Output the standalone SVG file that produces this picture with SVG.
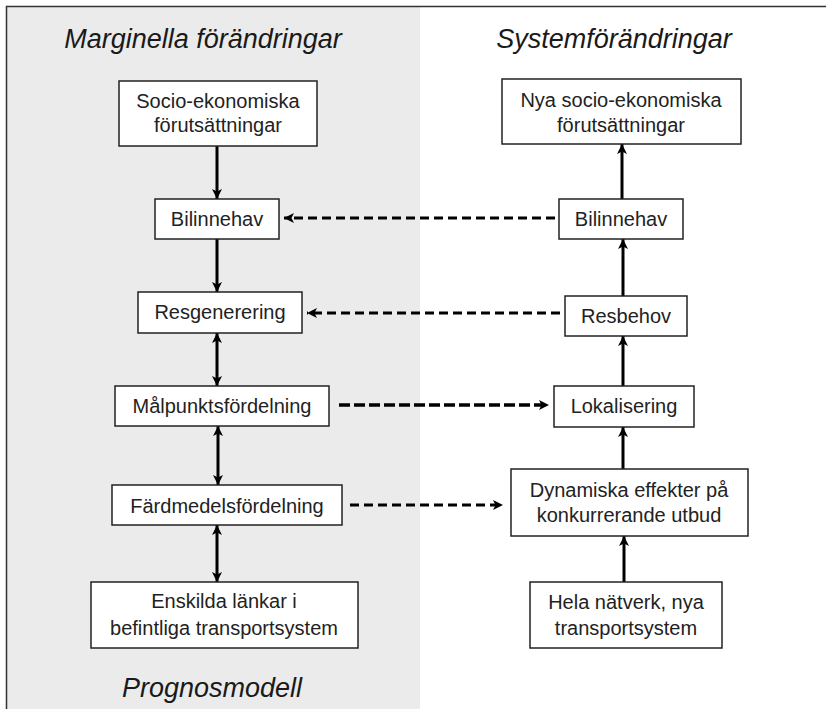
<svg xmlns="http://www.w3.org/2000/svg" width="826" height="709" viewBox="0 0 826 709">
<style>
.box{fill:#fff;stroke:#222;stroke-width:1.5}
.lt{font-family:"Liberation Sans",Arial,sans-serif;font-size:20px;fill:#222;text-anchor:middle}
.ttl{font-family:"Liberation Sans",Arial,sans-serif;font-size:27px;font-style:italic;fill:#1a1a1a;text-anchor:middle}
.sol{stroke:#000;stroke-width:3;fill:none}
.dash{stroke:#000;stroke-width:3;fill:none;stroke-dasharray:9 5}
.dash2{stroke:#000;stroke-width:3.5;fill:none;stroke-dasharray:11 4}
</style>
<defs>
<marker id="ah" viewBox="0 0 10 10" refX="10" refY="5" markerWidth="10" markerHeight="10" markerUnits="userSpaceOnUse" orient="auto-start-reverse">
<path d="M0,0 L10,5 L0,10 L2.5,5 z" fill="#000"/>
</marker>
</defs>
<rect x="7" y="7" width="413" height="702" fill="#ebebeb"/>
<path d="M6.5,709 V6.5 H826" fill="none" stroke="#333" stroke-width="1.5"/>
<text class="ttl" x="203" y="48">Marginella förändringar</text>
<text class="ttl" x="614" y="48">Systemförändringar</text>
<text class="ttl" x="212" y="697">Prognosmodell</text>
<g id="connectors">
<line class="sol" x1="217" y1="146" x2="217" y2="199" marker-end="url(#ah)"/>
<line class="sol" x1="217" y1="239" x2="217" y2="292" marker-end="url(#ah)"/>
<line class="sol" x1="217" y1="333" x2="217" y2="386" marker-start="url(#ah)" marker-end="url(#ah)"/>
<line class="sol" x1="218" y1="426" x2="218" y2="485" marker-start="url(#ah)" marker-end="url(#ah)"/>
<line class="sol" x1="217" y1="525" x2="217" y2="582" marker-start="url(#ah)" marker-end="url(#ah)"/>
<line class="sol" x1="624" y1="582" x2="624" y2="536" marker-end="url(#ah)"/>
<line class="sol" x1="623" y1="469" x2="623" y2="427" marker-end="url(#ah)"/>
<line class="sol" x1="623" y1="386" x2="623" y2="336" marker-end="url(#ah)"/>
<line class="sol" x1="623" y1="296" x2="623" y2="239" marker-end="url(#ah)"/>
<line class="sol" x1="622" y1="199" x2="622" y2="144" marker-end="url(#ah)"/>
<line class="dash" x1="555" y1="218" x2="284" y2="218" marker-end="url(#ah)"/>
<line class="dash" x1="560" y1="313" x2="307" y2="313" marker-end="url(#ah)"/>
<line class="dash2" x1="339" y1="405" x2="549" y2="405" marker-end="url(#ah)"/>
<line class="dash" x1="350" y1="505" x2="503" y2="505" marker-end="url(#ah)"/>
</g>
<g id="n-socio"><rect class="box" x="119" y="81" width="198" height="65"/><text class="lt" x="218" y="108">Socio-ekonomiska</text><text class="lt" x="218" y="132">förutsättningar</text></g>
<g id="n-bil-l"><rect class="box" x="155" y="199" width="124" height="40"/><text class="lt" x="217" y="226">Bilinnehav</text></g>
<g id="n-resgen"><rect class="box" x="138" y="292" width="164" height="41"/><text class="lt" x="220" y="319">Resgenerering</text></g>
<g id="n-malp"><rect class="box" x="115" y="386" width="214" height="40"/><text class="lt" x="222" y="413">Målpunktsfördelning</text></g>
<g id="n-fard"><rect class="box" x="112" y="485" width="230" height="40"/><text class="lt" x="227" y="513">Färdmedelsfördelning</text></g>
<g id="n-ensk"><rect class="box" x="91" y="582" width="267" height="66"/><text class="lt" x="224" y="608">Enskilda länkar i</text><text class="lt" x="224" y="635">befintliga transportsystem</text></g>
<g id="n-nya"><rect class="box" x="502" y="79" width="239" height="65"/><text class="lt" x="621" y="107">Nya socio-ekonomiska</text><text class="lt" x="621" y="132">förutsättningar</text></g>
<g id="n-bil-r"><rect class="box" x="559" y="199" width="124" height="40"/><text class="lt" x="621" y="226">Bilinnehav</text></g>
<g id="n-resb"><rect class="box" x="565" y="296" width="122" height="40"/><text class="lt" x="626" y="323">Resbehov</text></g>
<g id="n-lok"><rect class="box" x="554" y="386" width="140" height="41"/><text class="lt" x="624" y="413">Lokalisering</text></g>
<g id="n-dyn"><rect class="box" x="511" y="469" width="237" height="67"/><text class="lt" x="629" y="497">Dynamiska effekter på</text><text class="lt" x="629" y="522">konkurrerande utbud</text></g>
<g id="n-hela"><rect class="box" x="530" y="582" width="192" height="66"/><text class="lt" x="626" y="609">Hela nätverk, nya</text><text class="lt" x="626" y="635">transportsystem</text></g>
</svg>
